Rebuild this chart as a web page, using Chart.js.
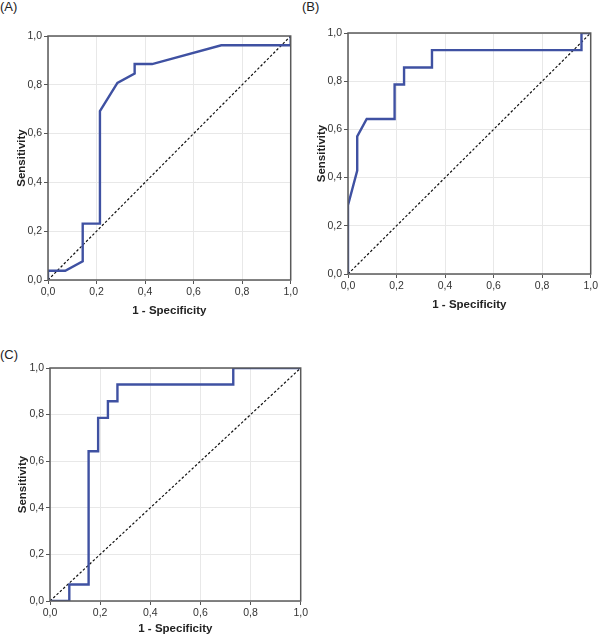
<!DOCTYPE html>
<html>
<head>
<meta charset="utf-8">
<script src="https://cdn.jsdelivr.net/npm/chart.js@4/dist/chart.umd.min.js"></script>
<style>
  body { margin: 0; background: #fff; width: 600px; height: 636px; position: relative; overflow: hidden; }
  .panel { position: absolute; }
  .lbl { position: absolute; font-family: Arial, "Liberation Sans", sans-serif; font-size: 13px; color: #222; }
</style>
</head>
<body>
<div class="lbl" style="left:0px; top:-1px;">(A)</div>
<div class="lbl" style="left:302px; top:-1px;">(B)</div>
<div class="lbl" style="left:0px; top:347px;">(C)</div>
<div class="panel" style="left:0px; top:0px; width:300px; height:320px;"><canvas id="chartA"></canvas></div>
<div class="panel" style="left:300px; top:0px; width:300px; height:320px;"><canvas id="chartB"></canvas></div>
<div class="panel" style="left:0px; top:320px; width:310px; height:316px;"><canvas id="chartC"></canvas></div>
<script>
// ROC curves: 1 - specificity (x) and sensitivity (y)
var fprA = [0, 0, 0.071, 0.143, 0.143, 0.214, 0.214, 0.286, 0.357, 0.357, 0.429, 0.714, 1, 1];
var tprA = [0, 0.038, 0.038, 0.077, 0.231, 0.231, 0.692, 0.808, 0.846, 0.885, 0.885, 0.962, 0.962, 1];

var fprB = [0, 0, 0.038, 0.038, 0.077, 0.192, 0.192, 0.231, 0.231, 0.346, 0.346, 0.962, 0.962, 1];
var tprB = [0, 0.286, 0.429, 0.571, 0.643, 0.643, 0.786, 0.786, 0.857, 0.857, 0.929, 0.929, 1, 1];

var fprC = [0, 0.077, 0.077, 0.154, 0.154, 0.192, 0.192, 0.231, 0.231, 0.269, 0.269, 0.731, 0.731, 1];
var tprC = [0, 0, 0.071, 0.071, 0.643, 0.643, 0.786, 0.786, 0.857, 0.857, 0.929, 0.929, 1, 1];

// reference line
var diagX = [0, 1];
var diagY = [0, 1];

var tickValues = [0, 0.2, 0.4, 0.6, 0.8, 1.0];
var tickLabels = ['0,0', '0,2', '0,4', '0,6', '0,8', '1,0'];

var xTitle = '1 - Specificity';
var yTitle = 'Sensitivity';

var FONT = 'Arial, "Liberation Sans", sans-serif';

function pts(xs, ys) {
  return xs.map(function (x, i) { return { x: x, y: ys[i] }; });
}

// draw the full box round the plot area
var frame = {
  id: 'frame',
  afterDatasetsDraw: function (chart) {
    var a = chart.chartArea, c = chart.ctx;
    c.save();
    c.strokeStyle = '#5a5a5a';
    c.lineWidth = 1.5;
    c.strokeRect(a.left, a.top, a.right - a.left, a.bottom - a.top);
    c.restore();
  }
};

function axis(title, size, titlePad, isX) {
  return {
    type: 'linear',
    min: 0,
    max: 1,
    afterBuildTicks: function (s) { s.ticks = tickValues.map(function (v) { return { value: v }; }); },
    afterFit: function (s) { if (isX) { s.height = size; } else { s.width = size; } },
    grid: { color: '#e8e8e8', lineWidth: 1, tickColor: '#555', tickLength: 4 },
    border: { display: false },
    ticks: {
      color: '#333',
      padding: 2,
      maxRotation: 0,
      font: { family: FONT, size: 10.5 },
      callback: function (v) { return tickLabels[tickValues.indexOf(v)]; }
    },
    title: {
      display: true,
      text: title,
      color: '#222',
      padding: titlePad,
      font: { family: FONT, size: 11.5, weight: 'bold' }
    }
  };
}

function makeChart(id, xs, ys, pad, yWidth, xHeight, xPad, yPad) {
  new Chart(document.getElementById(id).getContext('2d'), {
    type: 'scatter',
    data: {
      datasets: [{
        data: pts(xs, ys),
        showLine: true,
        borderColor: '#3f51a2',
        borderWidth: 2.4,
        pointRadius: 0,
        fill: false,
        tension: 0,
        order: 1
      }, {
        data: pts(diagX, diagY),
        showLine: true,
        borderColor: '#111',
        borderWidth: 1.2,
        borderDash: [2.5, 2],
        pointRadius: 0,
        fill: false,
        order: 2
      }]
    },
    options: {
      responsive: true,
      maintainAspectRatio: false,
      animation: false,
      layout: { padding: pad },
      plugins: { legend: { display: false }, tooltip: { enabled: false } },
      scales: {
        x: axis(xTitle, xHeight, xPad, true),
        y: axis(yTitle, yWidth, yPad, false)
      }
    },
    plugins: [frame]
  });
}

makeChart('chartA', fprA, tprA, { left: 0, top: 36, right: 9, bottom: 0 }, 48, 40,
  { top: 6, bottom: 2 }, { top: 15, bottom: 0 });
makeChart('chartB', fprB, tprB, { left: 0, top: 33, right: 5, bottom: 0 }, 48, 46,
  { top: 5, bottom: 8 }, { top: 15, bottom: 0 });
makeChart('chartC', fprC, tprC, { left: 0, top: 48, right: 8, bottom: 0 }, 50, 35,
  { top: 5, bottom: 0 }, { top: 16, bottom: 0 });
</script>
</body>
</html>
